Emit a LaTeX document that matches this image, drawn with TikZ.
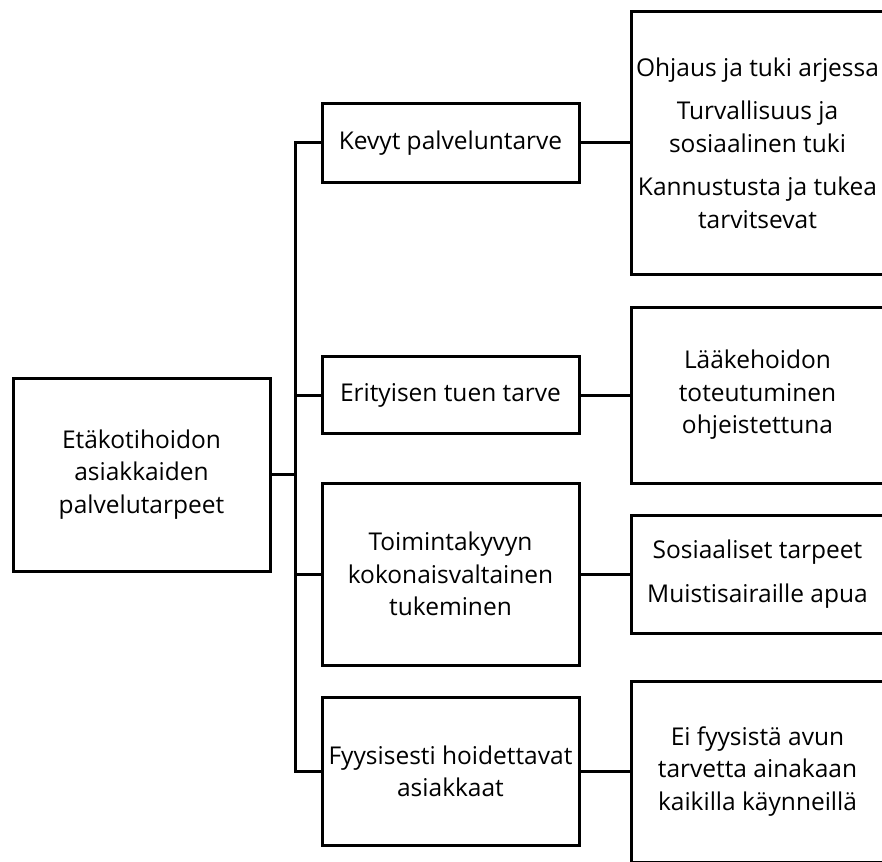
\documentclass[tikz,border=0pt]{standalone}
\usepackage{fontspec}
\setmainfont{Open Sans}
\begin{document}
\begin{tikzpicture}[x=1pt,y=-1pt,
  box/.style={draw=black, line width=3pt, fill=white, align=center,
    inner sep=0pt, font=\fontsize{24.5}{32.5}\selectfont},
  conn/.style={draw=black, line width=3pt}]
\useasboundingbox (0,0) rectangle (882,861);
\clip (0,0) rectangle (882,861);

% root
\node[box, minimum width=257pt, minimum height=193pt] (root) at (141.5,474.5)
  {Etäkotihoidon\\asiakkaiden\\palvelutarpeet};

% middle column
\node[box, minimum width=257pt, minimum height=78pt] (m1) at (450.5,143)
  {Kevyt palveluntarve};
\node[box, minimum width=257pt, minimum height=77pt] (m2) at (450.5,395)
  {Erityisen tuen tarve};
\node[box, minimum width=257pt, minimum height=182pt] (m3) at (450.5,574)
  {Toimintakyvyn\\kokonaisvaltainen\\tukeminen};
\node[box, minimum width=257pt, minimum height=148pt] (m4) at (450.5,771.5)
  {Fyysisesti hoidettavat\\asiakkaat};

% right column
\node[box, minimum width=253pt, minimum height=263pt] (r1) at (757.5,143)
  {Ohjaus ja tuki arjessa\\[11pt]Turvallisuus ja\\sosiaalinen tuki\\[11pt]Kannustusta ja tukea\\tarvitsevat};
\node[box, minimum width=253pt, minimum height=176pt] (r2) at (757.5,395)
  {Lääkehoidon\\toteutuminen\\ohjeistettuna};
\node[box, minimum width=253pt, minimum height=118pt] (r3) at (757.5,574)
  {Sosiaaliset tarpeet\\[11pt]Muistisairaille apua};
\node[box, minimum width=253pt, minimum height=181pt] (r4) at (757.5,771.5)
  {Ei fyysistä avun\\tarvetta ainakaan\\kaikilla käynneillä};

% trunk and branches
\coordinate (tr) at (295,474.5);
\draw[conn] (root.east) -- (tr);
\draw[conn] (m1.west) -| (tr) |- (m4.west);
\draw[conn] (m2.west) -- (m2.west -| tr);
\draw[conn] (m3.west) -- (m3.west -| tr);

\draw[conn] (m1.east) -- (r1.west);
\draw[conn] (m2.east) -- (r2.west);
\draw[conn] (m3.east) -- (r3.west);
\draw[conn] (m4.east) -- (r4.west);
\end{tikzpicture}
\end{document}
